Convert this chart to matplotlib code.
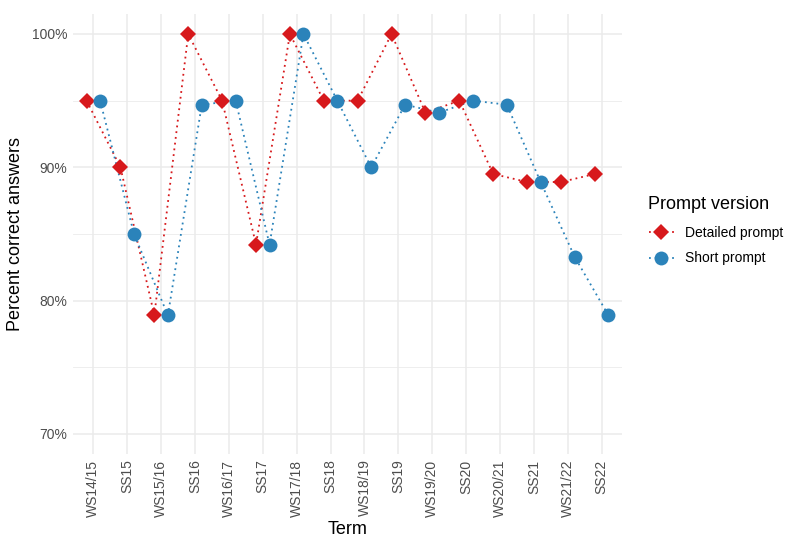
import numpy as np
import matplotlib.pyplot as plt
from matplotlib.ticker import FuncFormatter
from matplotlib.lines import Line2D

# data
terms = ['WS14/15', 'SS15', 'WS15/16', 'SS16', 'WS16/17', 'SS17', 'WS17/18', 'SS18',
         'WS18/19', 'SS19', 'WS19/20', 'SS20', 'WS20/21', 'SS21', 'WS21/22', 'SS22']
detailed = [95.0, 90.0, 78.9, 100.0, 95.0, 84.2, 100.0, 95.0,
            95.0, 100.0, 94.1, 95.0, 89.5, 88.9, 88.9, 89.5]
short = [95.0, 85.0, 78.9, 94.7, 95.0, 84.2, 100.0, 95.0,
         90.0, 94.7, 94.1, 95.0, 94.7, 88.9, 83.3, 78.9]

red = '#D7191C'
blue = '#2B83BA'
grey_txt = '#4D4D4D'
grid_col = '#EBEBEB'

plt.rcParams['font.family'] = ['Liberation Sans', 'DejaVu Sans']

fig = plt.figure(figsize=(8, 5.43), dpi=100)
ax = fig.add_axes([73 / 800, 89 / 543, 549 / 800, 440 / 543])

x = np.arange(len(terms))
dodge = 0.2
dots = (0, (1, 2.2))

ax.plot(x - dodge, detailed, linestyle=dots, color=red, linewidth=1.3, zorder=3)
ax.plot(x + dodge, short, linestyle=dots, color=blue, linewidth=1.3, zorder=3)
ax.plot(x - dodge, detailed, linestyle='none', marker='D', markersize=8.5,
        color=red, markeredgewidth=0, zorder=4)
ax.plot(x + dodge, short, linestyle='none', marker='o', markersize=10,
        color=blue, markeredgewidth=0, zorder=4)

ax.set_xlim(-0.6, len(terms) - 1 + 0.6)
ax.set_ylim(68.5, 101.5)
ax.set_xticks(x)
ax.set_xticklabels(terms, rotation=90, color=grey_txt, fontsize=10)
ax.set_yticks([70, 80, 90, 100])
ax.set_yticks([75, 85, 95], minor=True)
ax.yaxis.set_major_formatter(FuncFormatter(lambda v, p: f'{v:.0f}%'))
ax.tick_params(axis='y', colors=grey_txt, labelsize=10, length=0, pad=4)
ax.tick_params(axis='y', which='minor', length=0)
ax.tick_params(axis='x', length=0, pad=4)

ax.grid(True, which='major', color=grid_col, linewidth=1.1)
ax.grid(True, which='minor', axis='y', color=grid_col, linewidth=0.6)
ax.set_axisbelow(True)
for s in ax.spines.values():
    s.set_visible(False)

ax.set_xlabel('Term', fontsize=13, labelpad=3)
ax.set_ylabel('Percent correct answers', fontsize=13, labelpad=6)

handles = [
    Line2D([0], [0], color=red, linestyle=dots, linewidth=1.3,
           marker='D', markersize=8.5, markeredgewidth=0),
    Line2D([0], [0], color=blue, linestyle=dots, linewidth=1.3,
           marker='o', markersize=10, markeredgewidth=0),
]
leg = fig.legend(handles, ['Detailed prompt', 'Short prompt'], title='Prompt version',
                 loc='center left', bbox_to_anchor=(0.795, 0.575), frameon=False,
                 fontsize=10, title_fontsize=13, handlelength=1.8,
                 labelspacing=0.85, alignment='left')
leg._legend_box.sep = 9

fig.savefig('out.png', dpi=100)
